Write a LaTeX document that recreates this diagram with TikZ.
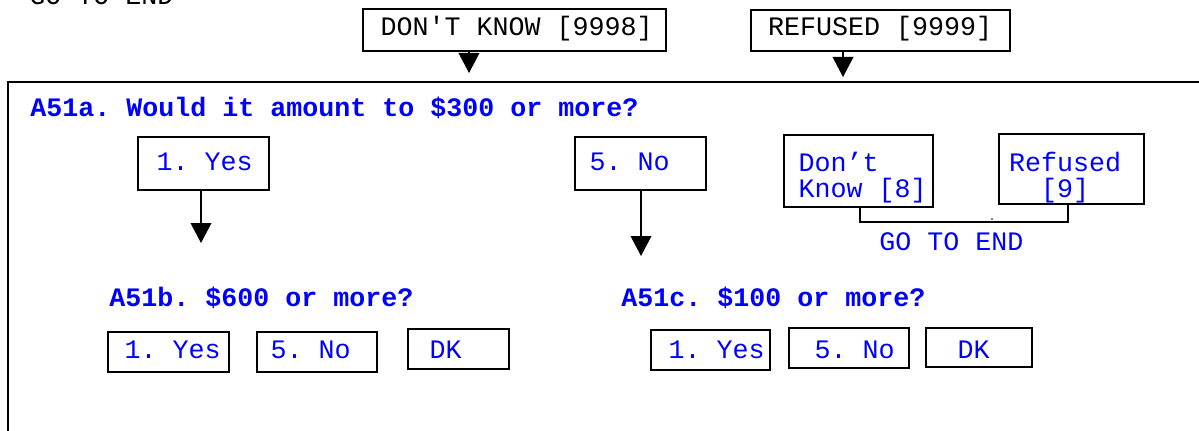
\documentclass[tikz,border=0pt]{standalone}
\usepackage{fontspec}
\setmonofont{Liberation Mono}
\usetikzlibrary{arrows.meta}
\newcommand\lbox[3]{\makebox[#1][l]{\hspace*{#2}#3}}
\begin{document}
\begin{tikzpicture}[x=0.75pt,y=-0.75pt,
  cour/.style={font=\ttfamily\fontsize{20pt}{20.25pt}\selectfont},
  qtext/.style={font=\ttfamily\bfseries\fontsize{20pt}{20.25pt}\selectfont, text=blue, anchor=base west, inner sep=0pt},
  plain/.style={cour, anchor=base west, inner sep=0pt},
  boxnode/.style={draw, line width=1.2pt, inner sep=0pt, cour, text depth=0pt},
  ans/.style={boxnode, text=blue},
  arr/.style={line width=1.2pt, -{Triangle[length=15pt, width=15.5pt]}},
  frame/.style={line width=1.5pt},
  link/.style={line width=1.2pt}
]
\useasboundingbox (0,0) rectangle (1199,431);

% text cut at the top
\node[plain] (gotop) at (29,5) {GO TO END};

% top code boxes
\node[boxnode, minimum height=31.5pt, text height=9pt] (dkN) at (514.5,30) {\lbox{227.25pt}{13.125pt}{DON'T KNOW [9998]}};
\node[boxnode, minimum height=30.75pt, text height=8.25pt] (rfN) at (880.5,30.5) {\lbox{194.25pt}{12.75pt}{REFUSED [9999]}};
\coordinate (tipDK) at (469,73);
\coordinate (tipRF) at (843,77);
\draw[arr] (dkN.south -| tipDK) -- (tipDK);
\draw[arr] (rfN.south -| tipRF) -- (tipRF);

% open frame
\coordinate (frBL) at (7.5,445);
\coordinate (frTL) at (7.5,82.5);
\coordinate (frTR) at (1215,82.5);
\draw[frame] (frBL) -- (frTL) -- (frTR);

% A51a
\node[qtext] (qa) at (30,117) {A51a. Would it amount to \$300 or more?};
\node[ans, minimum height=39.75pt, text height=11.25pt] (yesA) at (203.5,163.5) {\lbox{98.25pt}{13.875pt}{1. Yes}};
\node[ans, minimum height=39.75pt, text height=11.25pt] (noA) at (640.5,163.5) {\lbox{98.25pt}{10.875pt}{5. No}};
\node[ans, align=left, minimum height=54pt, text height=47pt, text depth=6.5pt] (dk8) at (858.5,171) {\lbox{111.75pt}{10.875pt}{Don’t}\\\lbox{111.75pt}{10.875pt}{Know [8]}};
\node[ans, align=left, minimum height=52.5pt, text height=48pt, text depth=4.5pt] (rf9) at (1071.5,169) {\lbox{108.75pt}{7.5pt}{Refused}\\\lbox{108.75pt}{31.5pt}{[9]}};

\coordinate (tipYA) at (201,243);
\coordinate (tipNA) at (641,256);
\draw[arr] (yesA.south -| tipYA) -- (tipYA);
\draw[arr] (noA.south -| tipNA) -- (tipNA);

\coordinate (bl) at (860,222);
\coordinate (br) at (1068,222);
\draw[link] (dk8.south -| bl) -- (bl) -- (br) -- (rf9.south -| br);
\fill (992,219) circle (0.6pt);
\node[plain, text=blue] (goend) at (879,250) {GO TO END};

% A51b
\node[qtext] (qb) at (109,306) {A51b. \$600 or more?};
\node[ans, minimum height=30pt, text height=9pt] (yesB) at (168.5,352) {\lbox{90.75pt}{12.375pt}{1. Yes}};
\node[ans, minimum height=30pt, text height=9pt] (noB) at (317,352) {\lbox{90pt}{10.125pt}{5. No}};
\node[ans, minimum height=30pt, text height=13.5pt] (dkB) at (458.5,349) {\lbox{75.75pt}{16.125pt}{DK}};

% A51c
\node[qtext] (qc) at (621,306) {A51c. \$100 or more?};
\node[ans, minimum height=30pt, text height=12pt] (yesC) at (710.5,350) {\lbox{89.25pt}{13.125pt}{1. Yes}};
\node[ans, minimum height=30pt, text height=15pt] (noC) at (849,348) {\lbox{90pt}{19.125pt}{5. No}};
\node[ans, minimum height=29.25pt, text height=15.75pt] (dkC) at (979,347.5) {\lbox{79.5pt}{23.625pt}{DK}};
\end{tikzpicture}
\end{document}
